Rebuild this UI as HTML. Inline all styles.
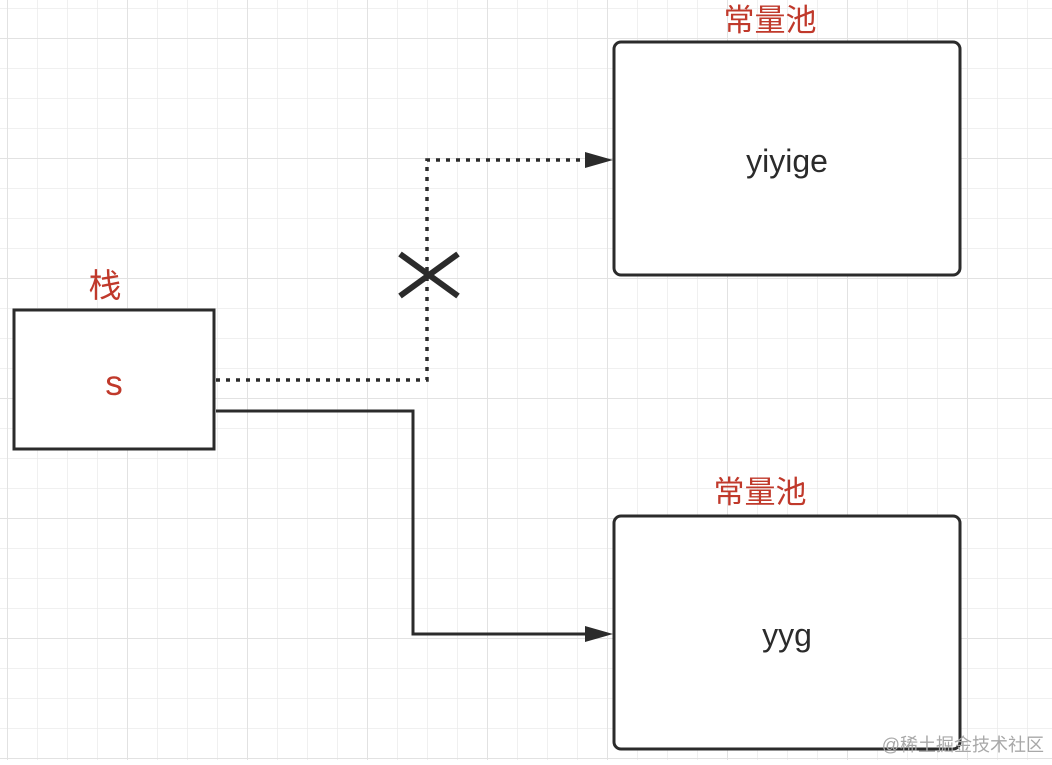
<!DOCTYPE html>
<html><head><meta charset="utf-8"><style>
body{margin:0;width:1052px;height:760px;overflow:hidden;background:#fff}
</style></head><body>
<svg width="1052" height="760" xmlns="http://www.w3.org/2000/svg" font-family="Liberation Sans, Noto Sans CJK SC, sans-serif">
<defs>
<pattern id="g" x="7" y="8" width="30" height="30" patternUnits="userSpaceOnUse">
<path d="M0 0H30M0 0V30" stroke="#ebebeb" stroke-width="1.5" fill="none"/>
</pattern>
<pattern id="G" x="127" y="38" width="120" height="120" patternUnits="userSpaceOnUse">
<path d="M0 0H120M0 0V120" stroke="#e2e2e2" stroke-width="2" fill="none"/>
</pattern>
</defs>
<rect width="1052" height="760" fill="url(#g)"/>
<rect width="1052" height="760" fill="url(#G)"/>
<rect x="614" y="42" width="346" height="233" rx="7" fill="#fff" stroke="#2b2b2b" stroke-width="3"/>
<rect x="614" y="516" width="346" height="233" rx="7" fill="#fff" stroke="#2b2b2b" stroke-width="3"/>
<rect x="14" y="310" width="200" height="139" fill="#fff" stroke="#2b2b2b" stroke-width="3"/>
<path d="M216 380H427V160H588" fill="none" stroke="#2b2b2b" stroke-width="3.5" stroke-dasharray="4 6"/>
<path d="M585 152L613 160L585 168Z" fill="#2b2b2b"/>
<path d="M216 411H413V634H588" fill="none" stroke="#2b2b2b" stroke-width="3"/>
<path d="M585 626L613 634L585 642Z" fill="#2b2b2b"/>
<path d="M400 254L458 296M458 254L400 296" stroke="#2b2b2b" stroke-width="6"/>
<text x="770" y="31" font-size="31" fill="#c0392b" text-anchor="middle">常量池</text>
<text x="760" y="503" font-size="31" fill="#c0392b" text-anchor="middle">常量池</text>
<text x="105" y="297" font-size="33" fill="#c0392b" text-anchor="middle">栈</text>
<text x="114" y="395" font-size="35" fill="#c0392b" text-anchor="middle">s</text>
<text x="787" y="172" font-size="32" fill="#2b2b2b" text-anchor="middle">yiyige</text>
<text x="787" y="646" font-size="32" fill="#2b2b2b" text-anchor="middle">yyg</text>
<text x="1044" y="751" font-size="18" fill="#a8a8a8" text-anchor="end">@稀土掘金技术社区</text>
</svg>
</body></html>
